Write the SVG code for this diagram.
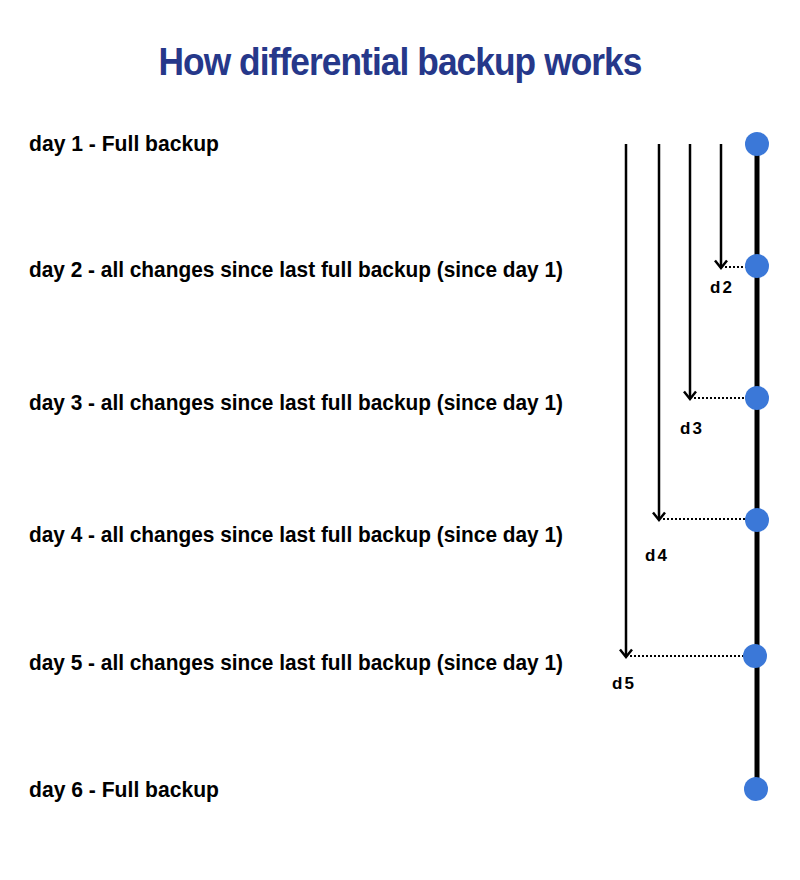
<svg xmlns="http://www.w3.org/2000/svg" width="800" height="880" viewBox="0 0 800 880">
<style>
.title{font-family:"Liberation Sans",Arial,sans-serif;font-weight:700;font-size:38px;fill:#26388a;letter-spacing:-1px}
.lbl{font-family:"Liberation Sans",Arial,sans-serif;font-weight:700;font-size:22px;fill:#000}
.d{font-family:"Liberation Sans",Arial,sans-serif;font-weight:700;font-size:17px;fill:#000;letter-spacing:2px}
.arr{stroke:#000;stroke-width:2.5;fill:none}
.dot{stroke:#000;stroke-width:2;stroke-dasharray:2 2;fill:none}
.node{fill:#3b78d8}
</style>
<defs>
<marker id="ah" viewBox="0 0 16 16" refX="13" refY="8" markerWidth="16" markerHeight="16" markerUnits="userSpaceOnUse" orient="auto">
<path d="M5.5 2 L13 8 L5.5 14" fill="none" stroke="#000" stroke-width="2.5"/>
</marker>
</defs>
<rect width="800" height="880" fill="#fff"/>
<text class="title" x="400" y="75" text-anchor="middle" textLength="483" lengthAdjust="spacingAndGlyphs">How differential backup works</text>
<g id="labels">
<text class="lbl" x="29" y="151" textLength="190" lengthAdjust="spacingAndGlyphs">day 1 - Full backup</text>
<text class="lbl" x="29" y="277" textLength="534" lengthAdjust="spacingAndGlyphs">day 2 - all changes since last full backup (since day 1)</text>
<text class="lbl" x="29" y="410" textLength="534" lengthAdjust="spacingAndGlyphs">day 3 - all changes since last full backup (since day 1)</text>
<text class="lbl" x="29" y="542" textLength="534" lengthAdjust="spacingAndGlyphs">day 4 - all changes since last full backup (since day 1)</text>
<text class="lbl" x="29" y="670" textLength="534" lengthAdjust="spacingAndGlyphs">day 5 - all changes since last full backup (since day 1)</text>
<text class="lbl" x="29" y="797" textLength="190" lengthAdjust="spacingAndGlyphs">day 6 - Full backup</text>
</g>
<g id="connectors">
<line x1="757" y1="144" x2="757" y2="789" stroke="#000" stroke-width="5"/>
<line class="arr" x1="721" y1="144" x2="721" y2="268" marker-end="url(#ah)"/>
<line class="arr" x1="690" y1="144" x2="690" y2="399" marker-end="url(#ah)"/>
<line class="arr" x1="659" y1="144" x2="659" y2="520" marker-end="url(#ah)"/>
<line class="arr" x1="626" y1="144" x2="626" y2="657" marker-end="url(#ah)"/>
<line class="dot" x1="725" y1="267" x2="746" y2="267"/>
<line class="dot" x1="694" y1="398" x2="746" y2="398"/>
<line class="dot" x1="663" y1="519" x2="746" y2="519"/>
<line class="dot" x1="630" y1="656" x2="746" y2="656"/>
</g>
<g id="diff-labels">
<text class="d" x="710" y="293">d2</text>
<text class="d" x="680" y="434">d3</text>
<text class="d" x="645" y="561">d4</text>
<text class="d" x="612" y="689">d5</text>
</g>
<g id="n1"><circle class="node" cx="757" cy="144" r="12"/></g>
<g id="n2"><circle class="node" cx="757" cy="266" r="12"/></g>
<g id="n3"><circle class="node" cx="757" cy="398" r="12"/></g>
<g id="n4"><circle class="node" cx="757" cy="520" r="12"/></g>
<g id="n5"><circle class="node" cx="755" cy="656" r="12"/></g>
<g id="n6"><circle class="node" cx="756" cy="789" r="12"/></g>
</svg>
